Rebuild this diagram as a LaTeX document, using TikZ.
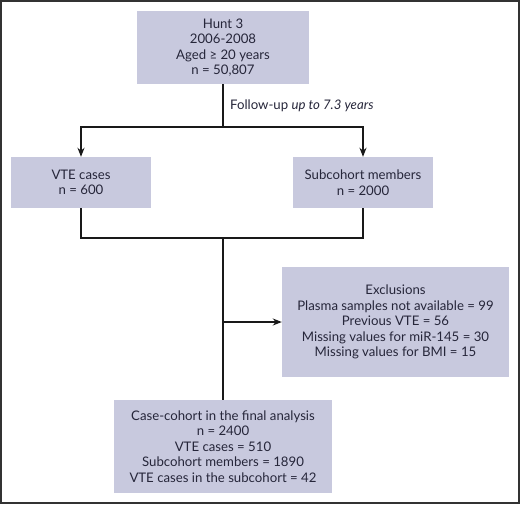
\documentclass[tikz,border=0pt]{standalone}
\usepackage{fontspec}
\setmainfont{Lato}
\usetikzlibrary{arrows.meta}
\definecolor{boxfill}{RGB}{200,201,222}
\definecolor{boxtext}{RGB}{38,38,58}
\definecolor{frameline}{RGB}{50,50,50}

\begin{document}
\begin{tikzpicture}[x=1pt, y=-1pt,
  font=\fontsize{13.2}{15.5}\selectfont,
  flowbox/.style={fill=boxfill, text=boxtext, align=center, inner sep=0pt},
  link/.style={line width=1.6pt, draw=black!90},
  every node/.append style={text=boxtext}]

\useasboundingbox (0,0) rectangle (520,504);
\draw[frameline, line width=1.2pt] (1,1) rectangle (519,503);

% boxes
\node[flowbox, minimum width=172, minimum height=73] (hunt) at (223,47.5)
{Hunt 3\\2006-2008\\Aged ≥ 20 years\\n = 50,807};
\node[flowbox, minimum width=140, minimum height=51] (vte) at (81,182.5)
{VTE cases\\n = 600};
\node[flowbox, minimum width=140, minimum height=51] (sub) at (363,182.5)
{Subcohort members\\n = 2000};
\node[flowbox, minimum width=227, minimum height=110] (excl) at (395.5,322)
{Exclusions\\Plasma samples not available = 99\\Previous VTE = 56\\Missing values for miR-145 = 30\\Missing values for BMI = 15};
\node[flowbox, minimum width=218, minimum height=93] (final) at (223,446.5)
{Case-cohort in the final analysis\\n = 2400\\VTE cases = 510\\Subcohort members = 1890\\VTE cases in the subcohort = 42};

\coordinate (split) at (223,127);
\coordinate (join) at (223,238);

% connectors
\draw[link] (hunt) -- node[right=3pt] {Follow-up \textit{up to 7.3 years}} (split);
\draw[link, -{Stealth[length=9pt, width=7pt]}] (split) -| (vte);
\draw[link, -{Stealth[length=9pt, width=7pt]}] (split) -| (sub);
\draw[link] (vte) |- (join);
\draw[link] (sub) |- (join);
\draw[link] (join) -- (final);
\draw[link, -{Stealth[length=9pt, width=7pt]}] (join |- excl) -- (excl);

\end{tikzpicture}
\end{document}
